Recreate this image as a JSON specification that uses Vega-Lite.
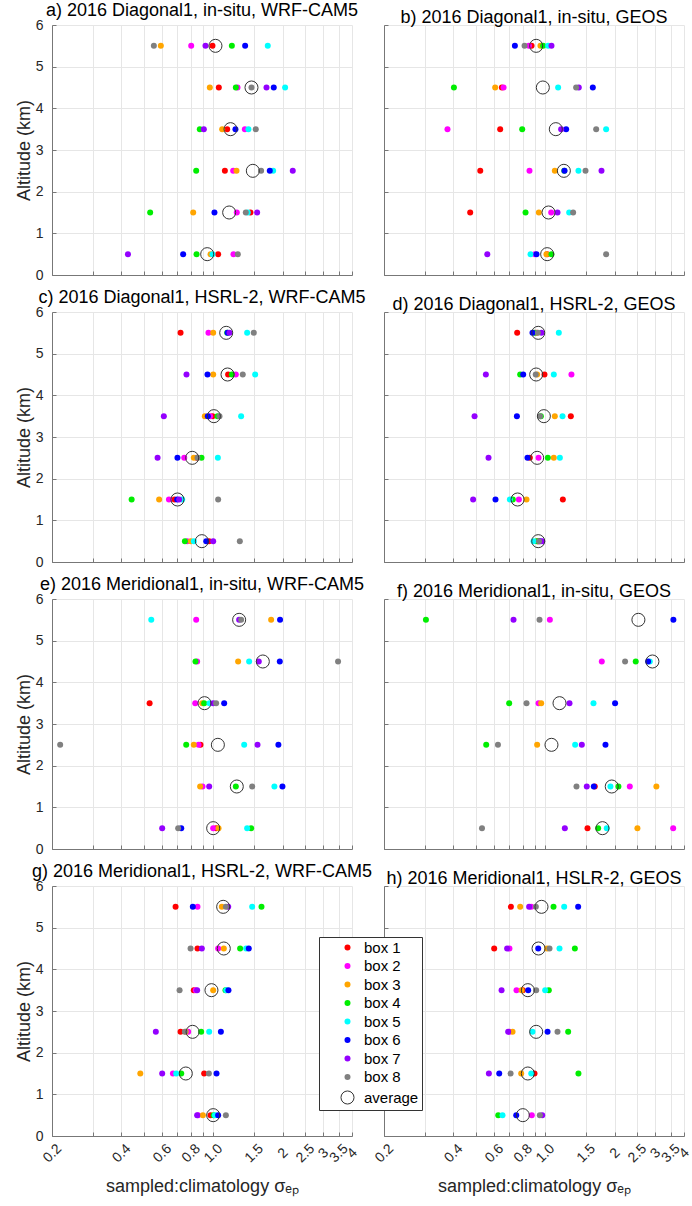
{
  "$schema": "https://vega.github.io/schema/vega-lite/v6.json",
  "padding": {"left": 15, "top": 2, "right": 5, "bottom": 5},
  "background": "white",
  "data": {"values": [
    {"panel":"a","alt":5.5,"series":"box 8","ratio":0.553},
    {"panel":"a","alt":5.5,"series":"box 3","ratio":0.593},
    {"panel":"a","alt":5.5,"series":"box 2","ratio":0.803},
    {"panel":"a","alt":5.5,"series":"box 7","ratio":0.926},
    {"panel":"a","alt":5.5,"series":"box 1","ratio":0.993},
    {"panel":"a","alt":5.5,"series":"box 4","ratio":1.205},
    {"panel":"a","alt":5.5,"series":"box 6","ratio":1.376},
    {"panel":"a","alt":5.5,"series":"box 5","ratio":1.725},
    {"panel":"a","alt":5.5,"series":"average","ratio":1.023},
    {"panel":"a","alt":4.5,"series":"box 3","ratio":0.967},
    {"panel":"a","alt":4.5,"series":"box 1","ratio":1.058},
    {"panel":"a","alt":4.5,"series":"box 4","ratio":1.254},
    {"panel":"a","alt":4.5,"series":"box 2","ratio":1.275},
    {"panel":"a","alt":4.5,"series":"box 8","ratio":1.466},
    {"panel":"a","alt":4.5,"series":"box 7","ratio":1.703},
    {"panel":"a","alt":4.5,"series":"box 6","ratio":1.831},
    {"panel":"a","alt":4.5,"series":"box 5","ratio":2.051},
    {"panel":"a","alt":4.5,"series":"average","ratio":1.466},
    {"panel":"a","alt":3.5,"series":"box 4","ratio":0.875},
    {"panel":"a","alt":3.5,"series":"box 7","ratio":0.911},
    {"panel":"a","alt":3.5,"series":"box 3","ratio":1.094},
    {"panel":"a","alt":3.5,"series":"box 1","ratio":1.15},
    {"panel":"a","alt":3.5,"series":"box 6","ratio":1.249},
    {"panel":"a","alt":3.5,"series":"box 2","ratio":1.372},
    {"panel":"a","alt":3.5,"series":"box 5","ratio":1.422},
    {"panel":"a","alt":3.5,"series":"box 8","ratio":1.530},
    {"panel":"a","alt":3.5,"series":"average","ratio":1.189},
    {"panel":"a","alt":2.5,"series":"box 4","ratio":0.844},
    {"panel":"a","alt":2.5,"series":"box 1","ratio":1.124},
    {"panel":"a","alt":2.5,"series":"box 2","ratio":1.221},
    {"panel":"a","alt":2.5,"series":"box 3","ratio":1.262},
    {"panel":"a","alt":2.5,"series":"box 8","ratio":1.614},
    {"panel":"a","alt":2.5,"series":"box 6","ratio":1.760},
    {"panel":"a","alt":2.5,"series":"box 5","ratio":1.820},
    {"panel":"a","alt":2.5,"series":"box 7","ratio":2.214},
    {"panel":"a","alt":2.5,"series":"average","ratio":1.486},
    {"panel":"a","alt":1.5,"series":"box 4","ratio":0.533},
    {"panel":"a","alt":1.5,"series":"box 3","ratio":0.819},
    {"panel":"a","alt":1.5,"series":"box 6","ratio":1.013},
    {"panel":"a","alt":1.5,"series":"box 2","ratio":1.266},
    {"panel":"a","alt":1.5,"series":"box 8","ratio":1.385},
    {"panel":"a","alt":1.5,"series":"box 5","ratio":1.413},
    {"panel":"a","alt":1.5,"series":"box 1","ratio":1.451},
    {"panel":"a","alt":1.5,"series":"box 7","ratio":1.551},
    {"panel":"a","alt":1.5,"series":"average","ratio":1.173},
    {"panel":"a","alt":0.5,"series":"box 7","ratio":0.427},
    {"panel":"a","alt":0.5,"series":"box 6","ratio":0.741},
    {"panel":"a","alt":0.5,"series":"box 4","ratio":0.847},
    {"panel":"a","alt":0.5,"series":"box 3","ratio":0.974},
    {"panel":"a","alt":0.5,"series":"box 5","ratio":0.993},
    {"panel":"a","alt":0.5,"series":"box 1","ratio":1.051},
    {"panel":"a","alt":0.5,"series":"box 2","ratio":1.225},
    {"panel":"a","alt":0.5,"series":"box 8","ratio":1.279},
    {"panel":"a","alt":0.5,"series":"average","ratio":0.942},

    {"panel":"b","alt":5.5,"series":"box 6","ratio":0.739},
    {"panel":"b","alt":5.5,"series":"box 8","ratio":0.814},
    {"panel":"b","alt":5.5,"series":"box 2","ratio":0.85},
    {"panel":"b","alt":5.5,"series":"box 1","ratio":0.873},
    {"panel":"b","alt":5.5,"series":"box 3","ratio":0.954},
    {"panel":"b","alt":5.5,"series":"box 4","ratio":0.980},
    {"panel":"b","alt":5.5,"series":"box 5","ratio":1.030},
    {"panel":"b","alt":5.5,"series":"box 7","ratio":1.065},
    {"panel":"b","alt":5.5,"series":"average","ratio":0.914},
    {"panel":"b","alt":4.5,"series":"box 4","ratio":0.402},
    {"panel":"b","alt":4.5,"series":"box 3","ratio":0.607},
    {"panel":"b","alt":4.5,"series":"box 1","ratio":0.649},
    {"panel":"b","alt":4.5,"series":"box 2","ratio":0.660},
    {"panel":"b","alt":4.5,"series":"box 5","ratio":1.138},
    {"panel":"b","alt":4.5,"series":"box 8","ratio":1.362},
    {"panel":"b","alt":4.5,"series":"box 7","ratio":1.399},
    {"panel":"b","alt":4.5,"series":"box 6","ratio":1.609},
    {"panel":"b","alt":4.5,"series":"average","ratio":0.977},
    {"panel":"b","alt":3.5,"series":"box 2","ratio":0.377},
    {"panel":"b","alt":3.5,"series":"box 1","ratio":0.638},
    {"panel":"b","alt":3.5,"series":"box 4","ratio":0.795},
    {"panel":"b","alt":3.5,"series":"box 7","ratio":1.173},
    {"panel":"b","alt":3.5,"series":"box 6","ratio":1.233},
    {"panel":"b","alt":3.5,"series":"box 8","ratio":1.664},
    {"panel":"b","alt":3.5,"series":"box 5","ratio":1.838},
    {"panel":"b","alt":3.5,"series":"average","ratio":1.112},
    {"panel":"b","alt":2.5,"series":"box 1","ratio":0.523},
    {"panel":"b","alt":2.5,"series":"box 2","ratio":0.855},
    {"panel":"b","alt":2.5,"series":"box 3","ratio":1.101},
    {"panel":"b","alt":2.5,"series":"box 4","ratio":1.21},
    {"panel":"b","alt":2.5,"series":"box 6","ratio":1.213},
    {"panel":"b","alt":2.5,"series":"box 5","ratio":1.394},
    {"panel":"b","alt":2.5,"series":"box 8","ratio":1.496},
    {"panel":"b","alt":2.5,"series":"box 7","ratio":1.755},
    {"panel":"b","alt":2.5,"series":"average","ratio":1.205},
    {"panel":"b","alt":1.5,"series":"box 1","ratio":0.473},
    {"panel":"b","alt":1.5,"series":"box 4","ratio":0.822},
    {"panel":"b","alt":1.5,"series":"box 3","ratio":0.939},
    {"panel":"b","alt":1.5,"series":"box 2","ratio":1.062},
    {"panel":"b","alt":1.5,"series":"box 7","ratio":1.131},
    {"panel":"b","alt":1.5,"series":"box 5","ratio":1.271},
    {"panel":"b","alt":1.5,"series":"box 8","ratio":1.322},
    {"panel":"b","alt":1.5,"series":"average","ratio":1.034},
    {"panel":"b","alt":0.5,"series":"box 7","ratio":0.561},
    {"panel":"b","alt":0.5,"series":"box 5","ratio":0.864},
    {"panel":"b","alt":0.5,"series":"box 2","ratio":0.902},
    {"panel":"b","alt":0.5,"series":"box 6","ratio":0.917},
    {"panel":"b","alt":0.5,"series":"box 3","ratio":1.013},
    {"panel":"b","alt":0.5,"series":"box 1","ratio":1.02},
    {"panel":"b","alt":0.5,"series":"box 4","ratio":1.065},
    {"panel":"b","alt":0.5,"series":"box 8","ratio":1.838},
    {"panel":"b","alt":0.5,"series":"average","ratio":1.020},

    {"panel":"c","alt":5.5,"series":"box 1","ratio":0.722},
    {"panel":"c","alt":5.5,"series":"box 2","ratio":0.954},
    {"panel":"c","alt":5.5,"series":"box 3","ratio":1.0},
    {"panel":"c","alt":5.5,"series":"box 4","ratio":1.150},
    {"panel":"c","alt":5.5,"series":"box 6","ratio":1.155},
    {"panel":"c","alt":5.5,"series":"box 7","ratio":1.177},
    {"panel":"c","alt":5.5,"series":"box 5","ratio":1.404},
    {"panel":"c","alt":5.5,"series":"box 8","ratio":1.500},
    {"panel":"c","alt":5.5,"series":"average","ratio":1.139},
    {"panel":"c","alt":4.5,"series":"box 7","ratio":0.766},
    {"panel":"c","alt":4.5,"series":"box 6","ratio":0.945},
    {"panel":"c","alt":4.5,"series":"box 3","ratio":1.0},
    {"panel":"c","alt":4.5,"series":"box 1","ratio":1.161},
    {"panel":"c","alt":4.5,"series":"box 4","ratio":1.205},
    {"panel":"c","alt":4.5,"series":"box 2","ratio":1.254},
    {"panel":"c","alt":4.5,"series":"box 8","ratio":1.344},
    {"panel":"c","alt":4.5,"series":"box 5","ratio":1.521},
    {"panel":"c","alt":4.5,"series":"average","ratio":1.154},
    {"panel":"c","alt":3.5,"series":"box 7","ratio":0.611},
    {"panel":"c","alt":3.5,"series":"box 3","ratio":0.920},
    {"panel":"c","alt":3.5,"series":"box 6","ratio":0.948},
    {"panel":"c","alt":3.5,"series":"box 2","ratio":0.97},
    {"panel":"c","alt":3.5,"series":"box 1","ratio":0.993},
    {"panel":"c","alt":3.5,"series":"box 4","ratio":1.044},
    {"panel":"c","alt":3.5,"series":"box 8","ratio":1.065},
    {"panel":"c","alt":3.5,"series":"box 5","ratio":1.322},
    {"panel":"c","alt":3.5,"series":"average","ratio":1.007},
    {"panel":"c","alt":2.5,"series":"box 7","ratio":0.574},
    {"panel":"c","alt":2.5,"series":"box 6","ratio":0.700},
    {"panel":"c","alt":2.5,"series":"box 2","ratio":0.749},
    {"panel":"c","alt":2.5,"series":"box 3","ratio":0.824},
    {"panel":"c","alt":2.5,"series":"box 1","ratio":0.85},
    {"panel":"c","alt":2.5,"series":"box 8","ratio":0.855},
    {"panel":"c","alt":2.5,"series":"box 4","ratio":0.890},
    {"panel":"c","alt":2.5,"series":"box 5","ratio":1.048},
    {"panel":"c","alt":2.5,"series":"average","ratio":0.811},
    {"panel":"c","alt":1.5,"series":"box 4","ratio":0.443},
    {"panel":"c","alt":1.5,"series":"box 3","ratio":0.583},
    {"panel":"c","alt":1.5,"series":"box 2","ratio":0.643},
    {"panel":"c","alt":1.5,"series":"box 1","ratio":0.68},
    {"panel":"c","alt":1.5,"series":"box 6","ratio":0.698},
    {"panel":"c","alt":1.5,"series":"box 7","ratio":0.712},
    {"panel":"c","alt":1.5,"series":"box 5","ratio":0.734},
    {"panel":"c","alt":1.5,"series":"box 8","ratio":1.051},
    {"panel":"c","alt":1.5,"series":"average","ratio":0.700},
    {"panel":"c","alt":0.5,"series":"box 4","ratio":0.754},
    {"panel":"c","alt":0.5,"series":"box 2","ratio":0.771},
    {"panel":"c","alt":0.5,"series":"box 3","ratio":0.80},
    {"panel":"c","alt":0.5,"series":"box 5","ratio":0.824},
    {"panel":"c","alt":0.5,"series":"box 6","ratio":0.933},
    {"panel":"c","alt":0.5,"series":"box 1","ratio":0.96},
    {"panel":"c","alt":0.5,"series":"box 7","ratio":1.0},
    {"panel":"c","alt":0.5,"series":"box 8","ratio":1.305},
    {"panel":"c","alt":0.5,"series":"average","ratio":0.893},

    {"panel":"d","alt":5.5,"series":"box 1","ratio":0.756},
    {"panel":"d","alt":5.5,"series":"box 6","ratio":0.881},
    {"panel":"d","alt":5.5,"series":"box 4","ratio":0.90},
    {"panel":"d","alt":5.5,"series":"box 2","ratio":0.91},
    {"panel":"d","alt":5.5,"series":"box 3","ratio":0.920},
    {"panel":"d","alt":5.5,"series":"box 8","ratio":0.93},
    {"panel":"d","alt":5.5,"series":"box 7","ratio":0.964},
    {"panel":"d","alt":5.5,"series":"box 5","ratio":1.146},
    {"panel":"d","alt":5.5,"series":"average","ratio":0.933},
    {"panel":"d","alt":4.5,"series":"box 7","ratio":0.553},
    {"panel":"d","alt":4.5,"series":"box 4","ratio":0.779},
    {"panel":"d","alt":4.5,"series":"box 6","ratio":0.803},
    {"panel":"d","alt":4.5,"series":"box 8","ratio":0.91},
    {"panel":"d","alt":4.5,"series":"box 3","ratio":0.923},
    {"panel":"d","alt":4.5,"series":"box 1","ratio":0.993},
    {"panel":"d","alt":4.5,"series":"box 5","ratio":1.090},
    {"panel":"d","alt":4.5,"series":"box 2","ratio":1.300},
    {"panel":"d","alt":4.5,"series":"average","ratio":0.914},
    {"panel":"d","alt":3.5,"series":"box 7","ratio":0.494},
    {"panel":"d","alt":3.5,"series":"box 6","ratio":0.754},
    {"panel":"d","alt":3.5,"series":"box 8","ratio":0.95},
    {"panel":"d","alt":3.5,"series":"box 4","ratio":0.958},
    {"panel":"d","alt":3.5,"series":"box 3","ratio":1.101},
    {"panel":"d","alt":3.5,"series":"box 5","ratio":1.189},
    {"panel":"d","alt":3.5,"series":"box 1","ratio":1.292},
    {"panel":"d","alt":3.5,"series":"average","ratio":0.987},
    {"panel":"d","alt":2.5,"series":"box 7","ratio":0.568},
    {"panel":"d","alt":2.5,"series":"box 6","ratio":0.838},
    {"panel":"d","alt":2.5,"series":"box 1","ratio":0.858},
    {"panel":"d","alt":2.5,"series":"box 2","ratio":0.936},
    {"panel":"d","alt":2.5,"series":"box 4","ratio":1.027},
    {"panel":"d","alt":2.5,"series":"box 3","ratio":1.090},
    {"panel":"d","alt":2.5,"series":"box 5","ratio":1.158},
    {"panel":"d","alt":2.5,"series":"average","ratio":0.923},
    {"panel":"d","alt":1.5,"series":"box 7","ratio":0.487},
    {"panel":"d","alt":1.5,"series":"box 6","ratio":0.609},
    {"panel":"d","alt":1.5,"series":"box 5","ratio":0.703},
    {"panel":"d","alt":1.5,"series":"box 4","ratio":0.724},
    {"panel":"d","alt":1.5,"series":"box 2","ratio":0.769},
    {"panel":"d","alt":1.5,"series":"box 3","ratio":0.830},
    {"panel":"d","alt":1.5,"series":"box 1","ratio":1.193},
    {"panel":"d","alt":1.5,"series":"average","ratio":0.759},
    {"panel":"d","alt":0.5,"series":"box 5","ratio":0.890},
    {"panel":"d","alt":0.5,"series":"box 4","ratio":0.92},
    {"panel":"d","alt":0.5,"series":"box 1","ratio":0.93},
    {"panel":"d","alt":0.5,"series":"box 3","ratio":0.93},
    {"panel":"d","alt":0.5,"series":"box 2","ratio":0.94},
    {"panel":"d","alt":0.5,"series":"box 8","ratio":0.94},
    {"panel":"d","alt":0.5,"series":"box 6","ratio":0.951},
    {"panel":"d","alt":0.5,"series":"box 7","ratio":0.971},
    {"panel":"d","alt":0.5,"series":"average","ratio":0.933},

    {"panel":"e","alt":5.5,"series":"box 5","ratio":0.539},
    {"panel":"e","alt":5.5,"series":"box 2","ratio":0.844},
    {"panel":"e","alt":5.5,"series":"box 7","ratio":1.296},
    {"panel":"e","alt":5.5,"series":"box 8","ratio":1.322},
    {"panel":"e","alt":5.5,"series":"box 3","ratio":1.784},
    {"panel":"e","alt":5.5,"series":"box 6","ratio":1.950},
    {"panel":"e","alt":5.5,"series":"average","ratio":1.296},
    {"panel":"e","alt":4.5,"series":"box 4","ratio":0.838},
    {"panel":"e","alt":4.5,"series":"box 2","ratio":0.852},
    {"panel":"e","alt":4.5,"series":"box 3","ratio":1.283},
    {"panel":"e","alt":4.5,"series":"box 5","ratio":1.432},
    {"panel":"e","alt":4.5,"series":"box 7","ratio":1.577},
    {"panel":"e","alt":4.5,"series":"box 6","ratio":1.945},
    {"panel":"e","alt":4.5,"series":"box 8","ratio":3.48},
    {"panel":"e","alt":4.5,"series":"average","ratio":1.642},
    {"panel":"e","alt":3.5,"series":"box 1","ratio":0.530},
    {"panel":"e","alt":3.5,"series":"box 2","ratio":0.836},
    {"panel":"e","alt":3.5,"series":"box 3","ratio":0.896},
    {"panel":"e","alt":3.5,"series":"box 4","ratio":0.914},
    {"panel":"e","alt":3.5,"series":"box 5","ratio":0.964},
    {"panel":"e","alt":3.5,"series":"box 7","ratio":1.0},
    {"panel":"e","alt":3.5,"series":"box 8","ratio":1.030},
    {"panel":"e","alt":3.5,"series":"box 6","ratio":1.116},
    {"panel":"e","alt":3.5,"series":"average","ratio":0.917},
    {"panel":"e","alt":2.5,"series":"box 8","ratio":0.217},
    {"panel":"e","alt":2.5,"series":"box 4","ratio":0.764},
    {"panel":"e","alt":2.5,"series":"box 3","ratio":0.824},
    {"panel":"e","alt":2.5,"series":"box 2","ratio":0.864},
    {"panel":"e","alt":2.5,"series":"box 1","ratio":0.881},
    {"panel":"e","alt":2.5,"series":"box 5","ratio":1.363},
    {"panel":"e","alt":2.5,"series":"box 7","ratio":1.557},
    {"panel":"e","alt":2.5,"series":"box 6","ratio":1.918},
    {"panel":"e","alt":2.5,"series":"average","ratio":1.048},
    {"panel":"e","alt":1.5,"series":"box 3","ratio":0.878},
    {"panel":"e","alt":1.5,"series":"box 2","ratio":0.899},
    {"panel":"e","alt":1.5,"series":"box 7","ratio":0.961},
    {"panel":"e","alt":1.5,"series":"box 4","ratio":1.254},
    {"panel":"e","alt":1.5,"series":"box 8","ratio":1.476},
    {"panel":"e","alt":1.5,"series":"box 5","ratio":1.843},
    {"panel":"e","alt":1.5,"series":"box 6","ratio":1.997},
    {"panel":"e","alt":1.5,"series":"average","ratio":1.266},
    {"panel":"e","alt":0.5,"series":"box 7","ratio":0.601},
    {"panel":"e","alt":0.5,"series":"box 8","ratio":0.705},
    {"panel":"e","alt":0.5,"series":"box 6","ratio":0.727},
    {"panel":"e","alt":0.5,"series":"box 2","ratio":1.0},
    {"panel":"e","alt":0.5,"series":"box 1","ratio":1.03},
    {"panel":"e","alt":0.5,"series":"box 3","ratio":1.055},
    {"panel":"e","alt":0.5,"series":"box 5","ratio":1.404},
    {"panel":"e","alt":0.5,"series":"box 4","ratio":1.461},
    {"panel":"e","alt":0.5,"series":"average","ratio":1.0},

    {"panel":"f","alt":5.5,"series":"box 4","ratio":0.304},
    {"panel":"f","alt":5.5,"series":"box 7","ratio":0.729},
    {"panel":"f","alt":5.5,"series":"box 8","ratio":0.945},
    {"panel":"f","alt":5.5,"series":"box 2","ratio":1.048},
    {"panel":"f","alt":5.5,"series":"box 6","ratio":3.598},
    {"panel":"f","alt":5.5,"series":"average","ratio":2.537},
    {"panel":"f","alt":4.5,"series":"box 2","ratio":1.760},
    {"panel":"f","alt":4.5,"series":"box 8","ratio":2.221},
    {"panel":"f","alt":4.5,"series":"box 4","ratio":2.470},
    {"panel":"f","alt":4.5,"series":"box 6","ratio":2.795},
    {"panel":"f","alt":4.5,"series":"box 5","ratio":2.843},
    {"panel":"f","alt":4.5,"series":"average","ratio":2.918},
    {"panel":"f","alt":3.5,"series":"box 4","ratio":0.698},
    {"panel":"f","alt":3.5,"series":"box 8","ratio":0.830},
    {"panel":"f","alt":3.5,"series":"box 2","ratio":0.936},
    {"panel":"f","alt":3.5,"series":"box 3","ratio":0.961},
    {"panel":"f","alt":3.5,"series":"box 7","ratio":1.275},
    {"panel":"f","alt":3.5,"series":"box 5","ratio":1.620},
    {"panel":"f","alt":3.5,"series":"box 6","ratio":2.010},
    {"panel":"f","alt":3.5,"series":"average","ratio":1.154},
    {"panel":"f","alt":2.5,"series":"box 4","ratio":0.555},
    {"panel":"f","alt":2.5,"series":"box 8","ratio":0.624},
    {"panel":"f","alt":2.5,"series":"box 3","ratio":0.923},
    {"panel":"f","alt":2.5,"series":"box 5","ratio":1.349},
    {"panel":"f","alt":2.5,"series":"box 7","ratio":1.442},
    {"panel":"f","alt":2.5,"series":"box 6","ratio":1.826},
    {"panel":"f","alt":2.5,"series":"average","ratio":1.065},
    {"panel":"f","alt":1.5,"series":"box 8","ratio":1.367},
    {"panel":"f","alt":1.5,"series":"box 7","ratio":1.515},
    {"panel":"f","alt":1.5,"series":"box 6","ratio":1.625},
    {"panel":"f","alt":1.5,"series":"box 1","ratio":1.641},
    {"panel":"f","alt":1.5,"series":"box 5","ratio":1.919},
    {"panel":"f","alt":1.5,"series":"box 4","ratio":2.078},
    {"panel":"f","alt":1.5,"series":"box 2","ratio":2.328},
    {"panel":"f","alt":1.5,"series":"box 3","ratio":3.036},
    {"panel":"f","alt":1.5,"series":"average","ratio":1.944},
    {"panel":"f","alt":0.5,"series":"box 8","ratio":0.532},
    {"panel":"f","alt":0.5,"series":"box 7","ratio":1.217},
    {"panel":"f","alt":0.5,"series":"box 1","ratio":1.526},
    {"panel":"f","alt":0.5,"series":"box 4","ratio":1.697},
    {"panel":"f","alt":0.5,"series":"box 5","ratio":1.850},
    {"panel":"f","alt":0.5,"series":"box 3","ratio":2.512},
    {"panel":"f","alt":0.5,"series":"box 2","ratio":3.59},
    {"panel":"f","alt":0.5,"series":"average","ratio":1.772},

    {"panel":"g","alt":5.5,"series":"box 1","ratio":0.687},
    {"panel":"g","alt":5.5,"series":"box 6","ratio":0.816},
    {"panel":"g","alt":5.5,"series":"box 2","ratio":0.855},
    {"panel":"g","alt":5.5,"series":"box 3","ratio":1.090},
    {"panel":"g","alt":5.5,"series":"box 8","ratio":1.135},
    {"panel":"g","alt":5.5,"series":"box 7","ratio":1.162},
    {"panel":"g","alt":5.5,"series":"box 5","ratio":1.476},
    {"panel":"g","alt":5.5,"series":"box 4","ratio":1.620},
    {"panel":"g","alt":5.5,"series":"average","ratio":1.105},
    {"panel":"g","alt":4.5,"series":"box 8","ratio":0.798},
    {"panel":"g","alt":4.5,"series":"box 1","ratio":0.855},
    {"panel":"g","alt":4.5,"series":"box 7","ratio":0.893},
    {"panel":"g","alt":4.5,"series":"box 2","ratio":1.051},
    {"panel":"g","alt":4.5,"series":"box 3","ratio":1.112},
    {"panel":"g","alt":4.5,"series":"box 4","ratio":1.309},
    {"panel":"g","alt":4.5,"series":"box 5","ratio":1.390},
    {"panel":"g","alt":4.5,"series":"box 6","ratio":1.427},
    {"panel":"g","alt":4.5,"series":"average","ratio":1.112},
    {"panel":"g","alt":3.5,"series":"box 8","ratio":0.715},
    {"panel":"g","alt":3.5,"series":"box 1","ratio":0.824},
    {"panel":"g","alt":3.5,"series":"box 2","ratio":0.84},
    {"panel":"g","alt":3.5,"series":"box 7","ratio":0.852},
    {"panel":"g","alt":3.5,"series":"box 3","ratio":1.0},
    {"panel":"g","alt":3.5,"series":"box 4","ratio":1.131},
    {"panel":"g","alt":3.5,"series":"box 5","ratio":1.14},
    {"panel":"g","alt":3.5,"series":"box 6","ratio":1.165},
    {"panel":"g","alt":3.5,"series":"average","ratio":0.983},
    {"panel":"g","alt":2.5,"series":"box 7","ratio":0.564},
    {"panel":"g","alt":2.5,"series":"box 1","ratio":0.722},
    {"panel":"g","alt":2.5,"series":"box 8","ratio":0.754},
    {"panel":"g","alt":2.5,"series":"box 3","ratio":0.76},
    {"panel":"g","alt":2.5,"series":"box 2","ratio":0.779},
    {"panel":"g","alt":2.5,"series":"box 4","ratio":0.887},
    {"panel":"g","alt":2.5,"series":"box 5","ratio":0.961},
    {"panel":"g","alt":2.5,"series":"box 6","ratio":1.080},
    {"panel":"g","alt":2.5,"series":"average","ratio":0.814},
    {"panel":"g","alt":1.5,"series":"box 3","ratio":0.483},
    {"panel":"g","alt":1.5,"series":"box 7","ratio":0.601},
    {"panel":"g","alt":1.5,"series":"box 2","ratio":0.669},
    {"panel":"g","alt":1.5,"series":"box 5","ratio":0.691},
    {"panel":"g","alt":1.5,"series":"box 4","ratio":0.727},
    {"panel":"g","alt":1.5,"series":"box 1","ratio":0.914},
    {"panel":"g","alt":1.5,"series":"box 8","ratio":0.958},
    {"panel":"g","alt":1.5,"series":"box 6","ratio":1.034},
    {"panel":"g","alt":1.5,"series":"average","ratio":0.761},
    {"panel":"g","alt":0.5,"series":"box 7","ratio":0.852},
    {"panel":"g","alt":0.5,"series":"box 2","ratio":0.86},
    {"panel":"g","alt":0.5,"series":"box 3","ratio":0.902},
    {"panel":"g","alt":0.5,"series":"box 1","ratio":0.974},
    {"panel":"g","alt":0.5,"series":"box 4","ratio":1.005},
    {"panel":"g","alt":0.5,"series":"box 5","ratio":1.017},
    {"panel":"g","alt":0.5,"series":"box 6","ratio":1.051},
    {"panel":"g","alt":0.5,"series":"box 8","ratio":1.135},
    {"panel":"g","alt":0.5,"series":"average","ratio":1.0},

    {"panel":"h","alt":5.5,"series":"box 1","ratio":0.710},
    {"panel":"h","alt":5.5,"series":"box 3","ratio":0.779},
    {"panel":"h","alt":5.5,"series":"box 7","ratio":0.852},
    {"panel":"h","alt":5.5,"series":"box 2","ratio":0.87},
    {"panel":"h","alt":5.5,"series":"box 8","ratio":0.911},
    {"panel":"h","alt":5.5,"series":"box 4","ratio":1.087},
    {"panel":"h","alt":5.5,"series":"box 5","ratio":1.209},
    {"panel":"h","alt":5.5,"series":"box 6","ratio":1.390},
    {"panel":"h","alt":5.5,"series":"average","ratio":0.964},
    {"panel":"h","alt":4.5,"series":"box 1","ratio":0.601},
    {"panel":"h","alt":4.5,"series":"box 7","ratio":0.684},
    {"panel":"h","alt":4.5,"series":"box 2","ratio":0.700},
    {"panel":"h","alt":4.5,"series":"box 6","ratio":0.933},
    {"panel":"h","alt":4.5,"series":"box 3","ratio":1.020},
    {"panel":"h","alt":4.5,"series":"box 8","ratio":1.044},
    {"panel":"h","alt":4.5,"series":"box 5","ratio":1.154},
    {"panel":"h","alt":4.5,"series":"box 4","ratio":1.345},
    {"panel":"h","alt":4.5,"series":"average","ratio":0.936},
    {"panel":"h","alt":3.5,"series":"box 7","ratio":0.647},
    {"panel":"h","alt":3.5,"series":"box 2","ratio":0.751},
    {"panel":"h","alt":3.5,"series":"box 3","ratio":0.790},
    {"panel":"h","alt":3.5,"series":"box 1","ratio":0.80},
    {"panel":"h","alt":3.5,"series":"box 6","ratio":0.844},
    {"panel":"h","alt":3.5,"series":"box 8","ratio":0.914},
    {"panel":"h","alt":3.5,"series":"box 5","ratio":1.0},
    {"panel":"h","alt":3.5,"series":"box 4","ratio":1.037},
    {"panel":"h","alt":3.5,"series":"average","ratio":0.841},
    {"panel":"h","alt":2.5,"series":"box 7","ratio":0.691},
    {"panel":"h","alt":2.5,"series":"box 2","ratio":0.70},
    {"panel":"h","alt":2.5,"series":"box 3","ratio":0.722},
    {"panel":"h","alt":2.5,"series":"box 5","ratio":0.881},
    {"panel":"h","alt":2.5,"series":"box 6","ratio":1.024},
    {"panel":"h","alt":2.5,"series":"box 8","ratio":1.131},
    {"panel":"h","alt":2.5,"series":"box 4","ratio":1.258},
    {"panel":"h","alt":2.5,"series":"average","ratio":0.914},
    {"panel":"h","alt":1.5,"series":"box 7","ratio":0.570},
    {"panel":"h","alt":1.5,"series":"box 6","ratio":0.632},
    {"panel":"h","alt":1.5,"series":"box 8","ratio":0.708},
    {"panel":"h","alt":1.5,"series":"box 3","ratio":0.787},
    {"panel":"h","alt":1.5,"series":"box 5","ratio":0.870},
    {"panel":"h","alt":1.5,"series":"box 1","ratio":0.899},
    {"panel":"h","alt":1.5,"series":"box 4","ratio":1.394},
    {"panel":"h","alt":1.5,"series":"average","ratio":0.841},
    {"panel":"h","alt":0.5,"series":"box 4","ratio":0.626},
    {"panel":"h","alt":0.5,"series":"box 5","ratio":0.653},
    {"panel":"h","alt":0.5,"series":"box 6","ratio":0.749},
    {"panel":"h","alt":0.5,"series":"box 2","ratio":0.875},
    {"panel":"h","alt":0.5,"series":"box 8","ratio":0.948},
    {"panel":"h","alt":0.5,"series":"box 7","ratio":0.971},
    {"panel":"h","alt":0.5,"series":"average","ratio":0.800}
  ]},
  "columns": 2,
  "spacing": {"row": 37, "column": 32},
  "bounds": "flush",
  "concat": [
    {"title": "a) 2016 Diagonal1, in-situ, WRF-CAM5", "width": 300, "height": 250,
     "transform": [{"filter": "datum.panel === 'a'"}],
     "encoding": {
       "x": {"field": "ratio", "type": "quantitative", "scale": {"type": "log", "domain": [0.2, 4], "nice": false}, "axis": {"values": [0.2,0.3,0.4,0.5,0.6,0.7,0.8,0.9,1.0,1.5,2,2.5,3,3.5,4], "labels": false, "title": null}},
       "y": {"field": "alt", "type": "quantitative", "scale": {"domain": [0, 6], "nice": false}, "axis": {"values": [0,1,2,3,4,5,6], "title": "Altitude (km)"}},
       "fill": {"field": "series", "type": "nominal", "scale": {"domain": ["box 1","box 2","box 3","box 4","box 5","box 6","box 7","box 8","average"], "range": ["#ff0000","#ff00ff","#ffa500","#00ee00","#00ffff","#0000ff","#9400ff","#808080","transparent"]}, "legend": {"orient": "none", "legendX": 267, "legendY": 912, "title": null, "encode": {"symbols": {"update": {"stroke": {"signal": "datum.value === 'average' ? '#333333' : 'transparent'"}, "strokeWidth": {"value": 1}, "size": {"signal": "datum.value === 'average' ? 170 : 36"}}}}}},
       "order": {"field": "series"}
     },
     "layer": [
       {"transform": [{"aggregate": [{"op": "count", "as": "n"}]}], "mark": {"type": "rule", "stroke": "#555555", "strokeWidth": 2, "strokeDash": [2, 2]}, "encoding": {"x": {"datum": 1}, "y": {"datum": 0}, "y2": {"datum": 6}}},
       {"transform": [{"filter": "datum.series !== 'average'"}], "mark": {"type": "point", "filled": true, "size": 36, "opacity": 1, "strokeWidth": 0}},
       {"transform": [{"filter": "datum.series === 'average'"}], "mark": {"type": "point", "filled": false, "size": 170, "opacity": 1, "stroke": "#333333", "strokeWidth": 1}}
     ]},
    {"title": "b) 2016 Diagonal1, in-situ, GEOS", "width": 300, "height": 250,
     "transform": [{"filter": "datum.panel === 'b'"}],
     "encoding": {
       "x": {"field": "ratio", "type": "quantitative", "scale": {"type": "log", "domain": [0.2, 4], "nice": false}, "axis": {"values": [0.2,0.3,0.4,0.5,0.6,0.7,0.8,0.9,1.0,1.5,2,2.5,3,3.5,4], "labels": false, "title": null}},
       "y": {"field": "alt", "type": "quantitative", "scale": {"domain": [0, 6], "nice": false}, "axis": {"values": [0,1,2,3,4,5,6], "labels": false, "title": null}},
       "fill": {"field": "series", "type": "nominal", "scale": {"domain": ["box 1","box 2","box 3","box 4","box 5","box 6","box 7","box 8","average"], "range": ["#ff0000","#ff00ff","#ffa500","#00ee00","#00ffff","#0000ff","#9400ff","#808080","transparent"]}, "legend": {"orient": "none", "legendX": 267, "legendY": 912, "title": null, "encode": {"symbols": {"update": {"stroke": {"signal": "datum.value === 'average' ? '#333333' : 'transparent'"}, "strokeWidth": {"value": 1}, "size": {"signal": "datum.value === 'average' ? 170 : 36"}}}}}},
       "order": {"field": "series"}
     },
     "layer": [
       {"transform": [{"aggregate": [{"op": "count", "as": "n"}]}], "mark": {"type": "rule", "stroke": "#555555", "strokeWidth": 2, "strokeDash": [2, 2]}, "encoding": {"x": {"datum": 1}, "y": {"datum": 0}, "y2": {"datum": 6}}},
       {"transform": [{"filter": "datum.series !== 'average'"}], "mark": {"type": "point", "filled": true, "size": 36, "opacity": 1, "strokeWidth": 0}},
       {"transform": [{"filter": "datum.series === 'average'"}], "mark": {"type": "point", "filled": false, "size": 170, "opacity": 1, "stroke": "#333333", "strokeWidth": 1}}
     ]},
    {"title": "c) 2016 Diagonal1, HSRL-2, WRF-CAM5", "width": 300, "height": 250,
     "transform": [{"filter": "datum.panel === 'c'"}],
     "encoding": {
       "x": {"field": "ratio", "type": "quantitative", "scale": {"type": "log", "domain": [0.2, 4], "nice": false}, "axis": {"values": [0.2,0.3,0.4,0.5,0.6,0.7,0.8,0.9,1.0,1.5,2,2.5,3,3.5,4], "labels": false, "title": null}},
       "y": {"field": "alt", "type": "quantitative", "scale": {"domain": [0, 6], "nice": false}, "axis": {"values": [0,1,2,3,4,5,6], "title": "Altitude (km)"}},
       "fill": {"field": "series", "type": "nominal", "scale": {"domain": ["box 1","box 2","box 3","box 4","box 5","box 6","box 7","box 8","average"], "range": ["#ff0000","#ff00ff","#ffa500","#00ee00","#00ffff","#0000ff","#9400ff","#808080","transparent"]}, "legend": {"orient": "none", "legendX": 267, "legendY": 912, "title": null, "encode": {"symbols": {"update": {"stroke": {"signal": "datum.value === 'average' ? '#333333' : 'transparent'"}, "strokeWidth": {"value": 1}, "size": {"signal": "datum.value === 'average' ? 170 : 36"}}}}}},
       "order": {"field": "series"}
     },
     "layer": [
       {"transform": [{"aggregate": [{"op": "count", "as": "n"}]}], "mark": {"type": "rule", "stroke": "#555555", "strokeWidth": 2, "strokeDash": [2, 2]}, "encoding": {"x": {"datum": 1}, "y": {"datum": 0}, "y2": {"datum": 6}}},
       {"transform": [{"filter": "datum.series !== 'average'"}], "mark": {"type": "point", "filled": true, "size": 36, "opacity": 1, "strokeWidth": 0}},
       {"transform": [{"filter": "datum.series === 'average'"}], "mark": {"type": "point", "filled": false, "size": 170, "opacity": 1, "stroke": "#333333", "strokeWidth": 1}}
     ]},
    {"title": "d) 2016 Diagonal1, HSRL-2, GEOS", "width": 300, "height": 250,
     "transform": [{"filter": "datum.panel === 'd'"}],
     "encoding": {
       "x": {"field": "ratio", "type": "quantitative", "scale": {"type": "log", "domain": [0.2, 4], "nice": false}, "axis": {"values": [0.2,0.3,0.4,0.5,0.6,0.7,0.8,0.9,1.0,1.5,2,2.5,3,3.5,4], "labels": false, "title": null}},
       "y": {"field": "alt", "type": "quantitative", "scale": {"domain": [0, 6], "nice": false}, "axis": {"values": [0,1,2,3,4,5,6], "labels": false, "title": null}},
       "fill": {"field": "series", "type": "nominal", "scale": {"domain": ["box 1","box 2","box 3","box 4","box 5","box 6","box 7","box 8","average"], "range": ["#ff0000","#ff00ff","#ffa500","#00ee00","#00ffff","#0000ff","#9400ff","#808080","transparent"]}, "legend": {"orient": "none", "legendX": 267, "legendY": 912, "title": null, "encode": {"symbols": {"update": {"stroke": {"signal": "datum.value === 'average' ? '#333333' : 'transparent'"}, "strokeWidth": {"value": 1}, "size": {"signal": "datum.value === 'average' ? 170 : 36"}}}}}},
       "order": {"field": "series"}
     },
     "layer": [
       {"transform": [{"aggregate": [{"op": "count", "as": "n"}]}], "mark": {"type": "rule", "stroke": "#555555", "strokeWidth": 2, "strokeDash": [2, 2]}, "encoding": {"x": {"datum": 1}, "y": {"datum": 0}, "y2": {"datum": 6}}},
       {"transform": [{"filter": "datum.series !== 'average'"}], "mark": {"type": "point", "filled": true, "size": 36, "opacity": 1, "strokeWidth": 0}},
       {"transform": [{"filter": "datum.series === 'average'"}], "mark": {"type": "point", "filled": false, "size": 170, "opacity": 1, "stroke": "#333333", "strokeWidth": 1}}
     ]},
    {"title": "e) 2016 Meridional1, in-situ, WRF-CAM5", "width": 300, "height": 250,
     "transform": [{"filter": "datum.panel === 'e'"}],
     "encoding": {
       "x": {"field": "ratio", "type": "quantitative", "scale": {"type": "log", "domain": [0.2, 4], "nice": false}, "axis": {"values": [0.2,0.3,0.4,0.5,0.6,0.7,0.8,0.9,1.0,1.5,2,2.5,3,3.5,4], "labels": false, "title": null}},
       "y": {"field": "alt", "type": "quantitative", "scale": {"domain": [0, 6], "nice": false}, "axis": {"values": [0,1,2,3,4,5,6], "title": "Altitude (km)"}},
       "fill": {"field": "series", "type": "nominal", "scale": {"domain": ["box 1","box 2","box 3","box 4","box 5","box 6","box 7","box 8","average"], "range": ["#ff0000","#ff00ff","#ffa500","#00ee00","#00ffff","#0000ff","#9400ff","#808080","transparent"]}, "legend": {"orient": "none", "legendX": 267, "legendY": 912, "title": null, "encode": {"symbols": {"update": {"stroke": {"signal": "datum.value === 'average' ? '#333333' : 'transparent'"}, "strokeWidth": {"value": 1}, "size": {"signal": "datum.value === 'average' ? 170 : 36"}}}}}},
       "order": {"field": "series"}
     },
     "layer": [
       {"transform": [{"aggregate": [{"op": "count", "as": "n"}]}], "mark": {"type": "rule", "stroke": "#555555", "strokeWidth": 2, "strokeDash": [2, 2]}, "encoding": {"x": {"datum": 1}, "y": {"datum": 0}, "y2": {"datum": 6}}},
       {"transform": [{"filter": "datum.series !== 'average'"}], "mark": {"type": "point", "filled": true, "size": 36, "opacity": 1, "strokeWidth": 0}},
       {"transform": [{"filter": "datum.series === 'average'"}], "mark": {"type": "point", "filled": false, "size": 170, "opacity": 1, "stroke": "#333333", "strokeWidth": 1}}
     ]},
    {"title": "f) 2016 Meridional1, in-situ, GEOS", "width": 300, "height": 250,
     "transform": [{"filter": "datum.panel === 'f'"}],
     "encoding": {
       "x": {"field": "ratio", "type": "quantitative", "scale": {"type": "log", "domain": [0.2, 4], "nice": false}, "axis": {"values": [0.2,0.3,0.4,0.5,0.6,0.7,0.8,0.9,1.0,1.5,2,2.5,3,3.5,4], "labels": false, "title": null}},
       "y": {"field": "alt", "type": "quantitative", "scale": {"domain": [0, 6], "nice": false}, "axis": {"values": [0,1,2,3,4,5,6], "labels": false, "title": null}},
       "fill": {"field": "series", "type": "nominal", "scale": {"domain": ["box 1","box 2","box 3","box 4","box 5","box 6","box 7","box 8","average"], "range": ["#ff0000","#ff00ff","#ffa500","#00ee00","#00ffff","#0000ff","#9400ff","#808080","transparent"]}, "legend": {"orient": "none", "legendX": 267, "legendY": 912, "title": null, "encode": {"symbols": {"update": {"stroke": {"signal": "datum.value === 'average' ? '#333333' : 'transparent'"}, "strokeWidth": {"value": 1}, "size": {"signal": "datum.value === 'average' ? 170 : 36"}}}}}},
       "order": {"field": "series"}
     },
     "layer": [
       {"transform": [{"aggregate": [{"op": "count", "as": "n"}]}], "mark": {"type": "rule", "stroke": "#555555", "strokeWidth": 2, "strokeDash": [2, 2]}, "encoding": {"x": {"datum": 1}, "y": {"datum": 0}, "y2": {"datum": 6}}},
       {"transform": [{"filter": "datum.series !== 'average'"}], "mark": {"type": "point", "filled": true, "size": 36, "opacity": 1, "strokeWidth": 0}},
       {"transform": [{"filter": "datum.series === 'average'"}], "mark": {"type": "point", "filled": false, "size": 170, "opacity": 1, "stroke": "#333333", "strokeWidth": 1}}
     ]},
    {"title": "g) 2016 Meridional1, HSRL-2, WRF-CAM5", "width": 300, "height": 250,
     "transform": [{"filter": "datum.panel === 'g'"}],
     "encoding": {
       "x": {"field": "ratio", "type": "quantitative", "scale": {"type": "log", "domain": [0.2, 4], "nice": false}, "axis": {"values": [0.2,0.3,0.4,0.5,0.6,0.7,0.8,0.9,1.0,1.5,2,2.5,3,3.5,4], "labelExpr": "indexof([0.3,0.5,0.7,0.9], datum.value) >= 0 ? '' : (datum.value === 1 ? '1.0' : toString(datum.value))", "labelAngle": -45, "title": "sampled:climatology  σₑₚ"}},
       "y": {"field": "alt", "type": "quantitative", "scale": {"domain": [0, 6], "nice": false}, "axis": {"values": [0,1,2,3,4,5,6], "title": "Altitude (km)"}},
       "fill": {"field": "series", "type": "nominal", "scale": {"domain": ["box 1","box 2","box 3","box 4","box 5","box 6","box 7","box 8","average"], "range": ["#ff0000","#ff00ff","#ffa500","#00ee00","#00ffff","#0000ff","#9400ff","#808080","transparent"]}, "legend": {"orient": "none", "legendX": 267, "legendY": 912, "title": null, "encode": {"symbols": {"update": {"stroke": {"signal": "datum.value === 'average' ? '#333333' : 'transparent'"}, "strokeWidth": {"value": 1}, "size": {"signal": "datum.value === 'average' ? 170 : 36"}}}}}},
       "order": {"field": "series"}
     },
     "layer": [
       {"transform": [{"aggregate": [{"op": "count", "as": "n"}]}], "mark": {"type": "rule", "stroke": "#555555", "strokeWidth": 2, "strokeDash": [2, 2]}, "encoding": {"x": {"datum": 1}, "y": {"datum": 0}, "y2": {"datum": 6}}},
       {"transform": [{"filter": "datum.series !== 'average'"}], "mark": {"type": "point", "filled": true, "size": 36, "opacity": 1, "strokeWidth": 0}},
       {"transform": [{"filter": "datum.series === 'average'"}], "mark": {"type": "point", "filled": false, "size": 170, "opacity": 1, "stroke": "#333333", "strokeWidth": 1}}
     ]},
    {"title": "h) 2016 Meridional1, HSLR-2, GEOS", "width": 300, "height": 250,
     "transform": [{"filter": "datum.panel === 'h'"}],
     "encoding": {
       "x": {"field": "ratio", "type": "quantitative", "scale": {"type": "log", "domain": [0.2, 4], "nice": false}, "axis": {"values": [0.2,0.3,0.4,0.5,0.6,0.7,0.8,0.9,1.0,1.5,2,2.5,3,3.5,4], "labelExpr": "indexof([0.3,0.5,0.7,0.9], datum.value) >= 0 ? '' : (datum.value === 1 ? '1.0' : toString(datum.value))", "labelAngle": -45, "title": "sampled:climatology  σₑₚ"}},
       "y": {"field": "alt", "type": "quantitative", "scale": {"domain": [0, 6], "nice": false}, "axis": {"values": [0,1,2,3,4,5,6], "labels": false, "title": null}},
       "fill": {"field": "series", "type": "nominal", "scale": {"domain": ["box 1","box 2","box 3","box 4","box 5","box 6","box 7","box 8","average"], "range": ["#ff0000","#ff00ff","#ffa500","#00ee00","#00ffff","#0000ff","#9400ff","#808080","transparent"]}, "legend": {"orient": "none", "legendX": 267, "legendY": 912, "title": null, "encode": {"symbols": {"update": {"stroke": {"signal": "datum.value === 'average' ? '#333333' : 'transparent'"}, "strokeWidth": {"value": 1}, "size": {"signal": "datum.value === 'average' ? 170 : 36"}}}}}},
       "order": {"field": "series"}
     },
     "layer": [
       {"transform": [{"aggregate": [{"op": "count", "as": "n"}]}], "mark": {"type": "rule", "stroke": "#555555", "strokeWidth": 2, "strokeDash": [2, 2]}, "encoding": {"x": {"datum": 1}, "y": {"datum": 0}, "y2": {"datum": 6}}},
       {"transform": [{"filter": "datum.series !== 'average'"}], "mark": {"type": "point", "filled": true, "size": 36, "opacity": 1, "strokeWidth": 0}},
       {"transform": [{"filter": "datum.series === 'average'"}], "mark": {"type": "point", "filled": false, "size": 170, "opacity": 1, "stroke": "#333333", "strokeWidth": 1}}
     ]}
  ],
  "config": {
    "font": "Liberation Sans",
    "view": {"stroke": null},
    "title": {"font": "Liberation Sans", "fontSize": 18, "fontWeight": "normal", "color": "#000000", "anchor": "middle", "baseline": "alphabetic", "offset": -2},
    "axis": {"grid": true, "gridColor": "#e6e6e6", "gridWidth": 1, "domainColor": "#777777", "domainWidth": 1, "tickColor": "#777777", "tickSize": -4, "labelFont": "Liberation Sans", "labelFontSize": 14, "labelColor": "#262626", "titleFont": "Liberation Sans", "titleFontSize": 18, "titleFontWeight": "normal", "titleColor": "#262626", "labelOverlap": false, "labelFlush": false, "labelBound": false},
    "axisY": {"labelPadding": 13, "titlePadding": 2},
    "axisX": {"labelPadding": 21, "labelAlign": "center", "labelBaseline": "middle", "titlePadding": 13},
    "legend": {"labelFont": "Liberation Sans", "labelFontSize": 15, "labelColor": "#000000", "symbolType": "circle", "symbolSize": 36, "symbolOpacity": 1, "strokeColor": "#333333", "fillColor": "#ffffff", "padding": 3, "rowPadding": 2.5, "symbolOffset": 18, "labelOffset": 9}
  }
}
